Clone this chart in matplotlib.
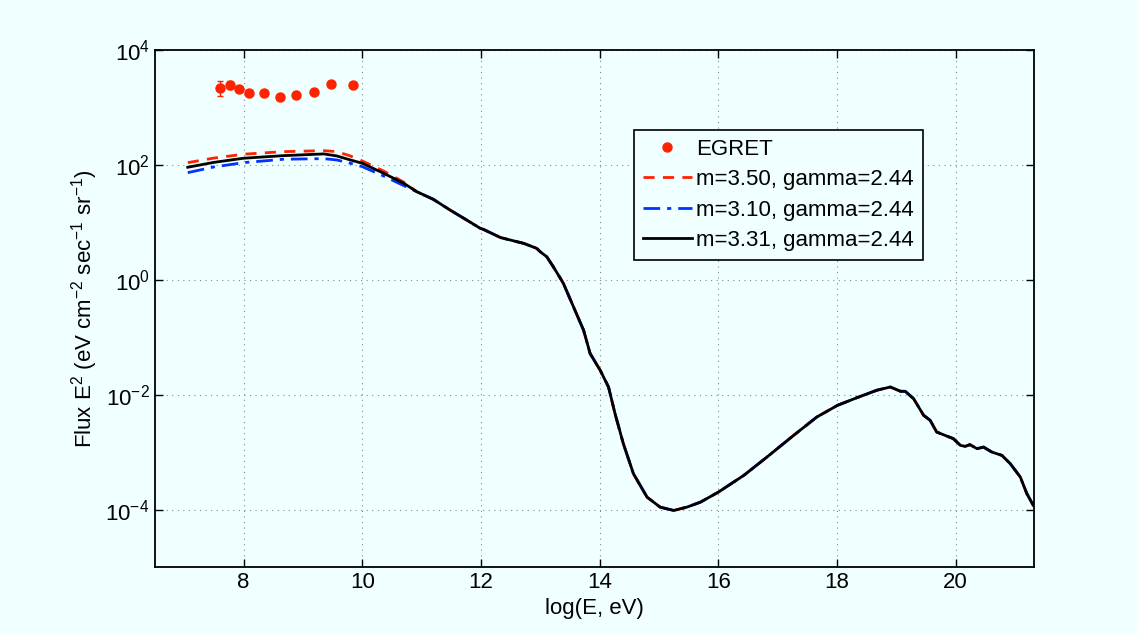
import numpy as np
import matplotlib
matplotlib.use("Agg")
import matplotlib.pyplot as plt
from matplotlib.ticker import FixedLocator, FuncFormatter

plt.rcParams['font.family'] = ['Liberation Sans', 'DejaVu Sans']
plt.rcParams['mathtext.fontset'] = 'custom'
plt.rcParams['mathtext.rm'] = 'Liberation Sans'
plt.rcParams['mathtext.it'] = 'Liberation Sans:italic'

# EGRET data
egret_logE = [7.60, 7.78, 7.93, 8.10, 8.35, 8.61, 8.88, 9.18, 9.48, 9.85]
egret_flux = [2170, 2480, 2060, 1820, 1820, 1550, 1680, 1870, 2580, 2510]
egret_err_lo = [570, 400, 0, 0, 0, 0, 0, 0, 0, 0]
egret_err_hi = [750, 440, 0, 0, 0, 0, 0, 0, 0, 0]

# low energy parts (log10 flux) of the three model curves
low_logE = [7.06, 7.5, 8.0, 8.67, 9.35, 9.57, 9.80, 10.0, 10.36, 10.70]
red_low = [2.040, 2.120, 2.187, 2.232, 2.249, 2.232, 2.157, 2.070, 1.895, 1.700]
blue_low = [1.866, 1.965, 2.040, 2.099, 2.110, 2.087, 2.030, 1.971, 1.808, 1.640]
black_low = [1.960, 2.045, 2.117, 2.162, 2.192, 2.157, 2.087, 2.030, 1.855, 1.681]

# common high energy tail (log10 flux)
tail_logE = [10.92, 11.20, 11.48, 11.76, 11.99, 12.04, 12.33, 12.61, 12.72, 12.94,
             13.00, 13.11, 13.22, 13.34, 13.39, 13.56, 13.73, 13.84, 14.01, 14.15,
             14.26, 14.40, 14.57, 14.80, 15.02, 15.25, 15.47, 15.70, 16.00, 16.43,
             16.82, 17.27, 17.66, 18.01, 18.34, 18.67, 18.90, 19.07, 19.15, 19.29,
             19.46, 19.57, 19.68, 19.82, 19.96, 20.08, 20.16, 20.24, 20.36, 20.47,
             20.61, 20.78, 20.92, 21.09, 21.20, 21.31]
tail_logF = [1.534, 1.400, 1.215, 1.041, 0.896, 0.879, 0.736, 0.663, 0.635, 0.548,
             0.488, 0.401, 0.227, 0.024, -0.063, -0.471, -0.877, -1.283, -1.575, -1.866,
             -2.330, -2.853, -3.376, -3.784, -3.958, -4.016, -3.958, -3.871, -3.697, -3.405,
             -3.086, -2.708, -2.389, -2.185, -2.051, -1.923, -1.866, -1.941, -1.941, -2.068,
             -2.359, -2.446, -2.650, -2.708, -2.765, -2.882, -2.900, -2.870, -2.940, -2.912,
             -2.999, -3.057, -3.201, -3.435, -3.724, -3.929]

labels = ['EGRET', 'm=3.50, gamma=2.44', 'm=3.10, gamma=2.44', 'm=3.31, gamma=2.44']

bg = '#f0ffff'
fig = plt.figure(figsize=(11.38, 6.34), dpi=100, facecolor=bg)
ax = fig.add_axes([0.1358, 0.1057, 0.9086 - 0.1358, 0.921 - 0.1057], facecolor=bg)

x_all = np.array(low_logE + tail_logE)
red = 10 ** np.array(red_low + tail_logF)
blue = 10 ** np.array(blue_low + tail_logF)
black = 10 ** np.array(black_low + tail_logF)

ax.errorbar(egret_logE, egret_flux, yerr=[egret_err_lo, egret_err_hi], fmt='none',
            ecolor='#ff2200', elinewidth=1, capsize=2.5, zorder=5)
h0, = ax.plot(egret_logE, egret_flux, 'o', color='#ff2200', ms=6.5, label=labels[0], zorder=6)
h1, = ax.plot(x_all, red, '--', color='#ff2200', lw=2, dashes=(4, 3), label=labels[1])
h2, = ax.plot(x_all, blue, '-.', color='#0033ff', lw=2, dashes=(6, 2.5, 1.5, 2.5), label=labels[2])
h3, = ax.plot(x_all, black, '-', color='black', lw=2, label=labels[3])

ax.set_yscale('log')
ax.set_xlim(6.5, 21.32)
ax.set_ylim(1e-5, 1e4)
ax.xaxis.set_major_locator(FixedLocator([8, 10, 12, 14, 16, 18, 20]))
ax.yaxis.set_major_locator(FixedLocator([1e-4, 1e-2, 1e0, 1e2, 1e4]))
ax.yaxis.set_minor_locator(FixedLocator([]))
ax.yaxis.set_major_formatter(FuncFormatter(lambda v, p: r'$\mathregular{10^{%d}}$' % round(np.log10(v))))
ax.tick_params(which='both', direction='in', top=True, right=True, labelsize=16, length=6, width=1)
ax.grid(True, linestyle=(0, (1, 4)), color='#888888', lw=0.8)
for s in ax.spines.values():
    s.set_linewidth(1.3)

ax.set_xlabel('log(E, eV)', fontsize=16, labelpad=4)
ax.set_ylabel(r'Flux E$^2$ (eV cm$^{-2}$ sec$^{-1}$ sr$^{-1}$)', fontsize=16)

leg = ax.legend(handles=[h0, h1, h2, h3], loc='upper left', bbox_to_anchor=(634 / 1138, 1 - 130 / 634),
                bbox_transform=fig.transFigure, fontsize=16, frameon=True, fancybox=False,
                edgecolor='black', facecolor=bg, framealpha=1, handlelength=2.2,
                handletextpad=0.2, borderpad=0.4, labelspacing=0.42, borderaxespad=0, numpoints=1)
leg.get_frame().set_linewidth(1.2)

fig.savefig('out.png', dpi=100, facecolor=bg)
